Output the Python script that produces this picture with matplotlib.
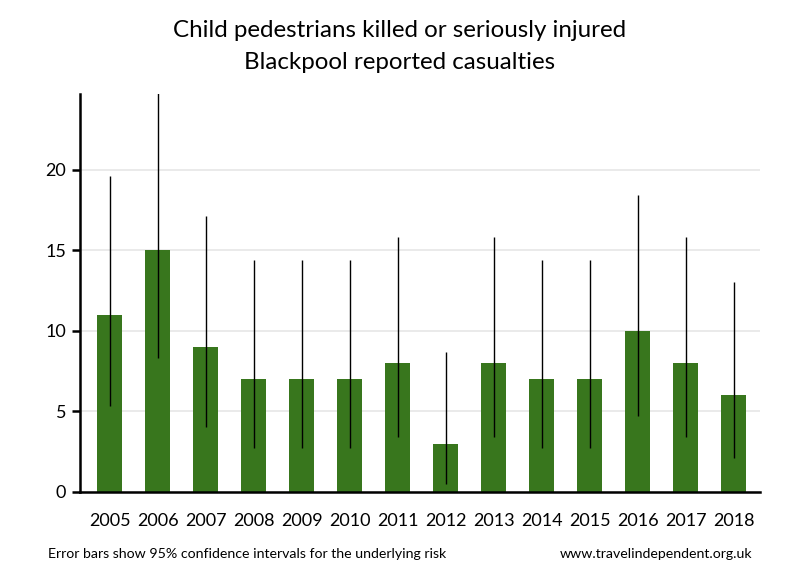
import numpy as np
import matplotlib.pyplot as plt

plt.rcParams['font.family'] = ['Lato', 'DejaVu Sans']

years = ["2005", "2006", "2007", "2008", "2009", "2010", "2011",
         "2012", "2013", "2014", "2015", "2016", "2017", "2018"]
casualties = [11, 15, 9, 7, 7, 7, 8, 3, 8, 7, 7, 10, 8, 6]
ci_low = [5.3, 8.3, 4.0, 2.7, 2.7, 2.7, 3.4, 0.5, 3.4, 2.7, 2.7, 4.7, 3.4, 2.1]
ci_high = [19.6, 26.0, 17.1, 14.4, 14.4, 14.4, 15.8, 8.7, 15.8, 14.4, 14.4, 18.4, 15.8, 13.0]

bar_color = "#38761d"

fig = plt.figure(figsize=(8, 5.8), dpi=100)
ax = fig.add_axes([0.1, 0.152, 0.85, 0.686])

x = np.arange(len(years))
vals = np.array(casualties)
yerr = [vals - np.array(ci_low), np.array(ci_high) - vals]

ax.bar(x, vals, width=0.53, color=bar_color, zorder=2)
ax.errorbar(x, vals, yerr=yerr, fmt="none", ecolor="black",
            elinewidth=1, capsize=0, zorder=3)

ax.set_xlim(-0.615, 13.55)
ax.set_ylim(0, 24.7)
ax.set_yticks([0, 5, 10, 15, 20])
ax.set_xticks(x)
ax.set_xticklabels(years)
ax.yaxis.grid(True, color="#e6e6e6", linewidth=1.2, zorder=0)
ax.set_axisbelow(True)

for s in ["top", "right"]:
    ax.spines[s].set_visible(False)
ax.spines["left"].set_linewidth(1.8)
ax.spines["bottom"].set_linewidth(1.8)
ax.tick_params(axis="y", length=6, width=1.8, labelsize=13, pad=4)
ax.tick_params(axis="x", length=0, labelsize=13, pad=15)

fig.text(0.5, 0.947, "Child pedestrians killed or seriously injured",
         ha="center", va="center", fontsize=17.4)
fig.text(0.5, 0.892, "Blackpool reported casualties",
         ha="center", va="center", fontsize=17.4)
fig.text(0.06, 0.045, "Error bars show 95% confidence intervals for the underlying risk",
         ha="left", va="center", fontsize=10.2)
fig.text(0.94, 0.045, "www.travelindependent.org.uk",
         ha="right", va="center", fontsize=10.2)

fig.savefig("out.png", dpi=100)
